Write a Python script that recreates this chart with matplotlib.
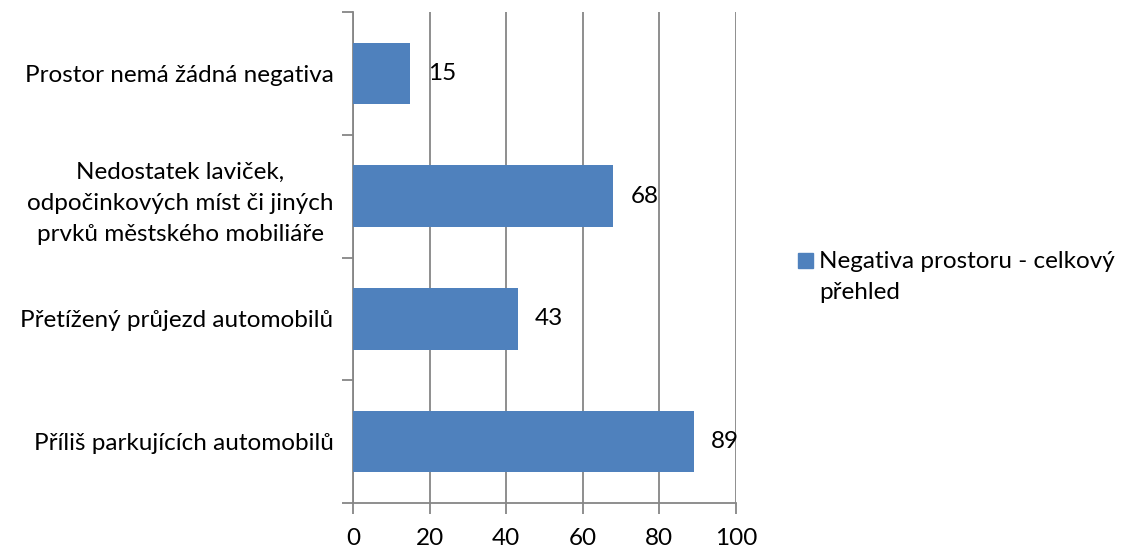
import matplotlib.pyplot as plt
from matplotlib.patches import Rectangle

plt.rcParams["font.family"] = ["Lato", "DejaVu Sans"]

# bottom to top, as drawn
categories = [
    "Příliš parkujících automobilů",
    "Přetížený průjezd automobilů",
    "Nedostatek laviček,\nodpočinkových míst či jiných\nprvků městského mobiliáře",
    "Prostor nemá žádná negativa",
]
values = [89, 43, 68, 15]
xticks = [0, 20, 40, 60, 80, 100]
legend_label = "Negativa prostoru - celkový\npřehled"

BAR = "#4F81BD"
GRID = "#868686"
FS = 17.5

fig = plt.figure(figsize=(11.23, 5.51), dpi=100)
ax = fig.add_axes([0.3143, 0.0871, 0.3411, 0.8911])

ypos = list(range(len(categories)))
ax.barh(ypos, values, height=0.5, color=BAR, zorder=3)
for y, v in zip(ypos, values):
    ax.text(v + 4.5, y, str(v), va="center", ha="left", fontsize=FS, color="black", zorder=4)

ax.set_xlim(0, 100)
ax.set_ylim(-0.5, len(categories) - 0.5)
ax.set_xticks(xticks)
ax.set_xticklabels([str(t) for t in xticks], fontsize=FS)
ax.xaxis.grid(True, color=GRID, linewidth=1.3, zorder=0)

# category boundaries as ticks, labels at centres
ax.set_yticks([i - 0.5 for i in range(len(categories) + 1)])
ax.set_yticklabels([])
ax.set_yticks(ypos, minor=True)
ax.set_yticklabels(categories, minor=True, fontsize=FS, multialignment="center",
                   linespacing=1.6)
ax.tick_params(axis="y", which="minor", length=0, pad=14)
ax.tick_params(axis="y", which="major", length=8, width=1.3, color=GRID)
ax.tick_params(axis="x", length=8, width=1.3, color=GRID, pad=10)

for side in ["top", "right"]:
    ax.spines[side].set_visible(False)
for side in ["left", "bottom"]:
    ax.spines[side].set_color(GRID)
    ax.spines[side].set_linewidth(1.3)

# legend drawn by hand so the key sits on the first line
W, H = fig.get_size_inches() * fig.dpi
fig.patches.append(Rectangle((798 / W, 1 - 268 / H), 15 / W, 15 / H,
                             transform=fig.transFigure, color=BAR, figure=fig))
fig.text(819 / W, 1 - 251 / H, legend_label, ha="left", va="top", fontsize=FS,
         linespacing=1.6)

fig.savefig("out.png", dpi=100)
